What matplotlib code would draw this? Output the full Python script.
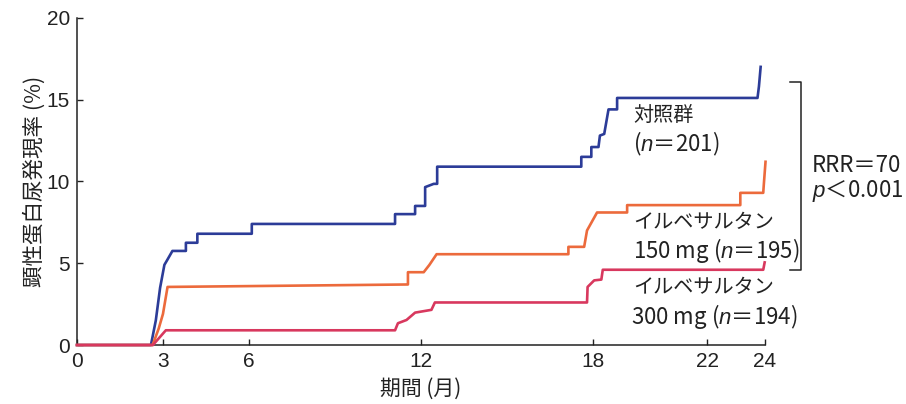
import matplotlib
matplotlib.use('Agg')
import matplotlib.pyplot as plt

# 時間 (月) と発現率 (%) の折れ線頂点
t_ctrl = [0, 2.58, 2.75, 2.9, 3.05, 3.15, 3.33, 3.8, 3.8, 4.2, 4.2, 6.1, 6.1, 11.1, 11.1,
          11.8, 11.8, 12.15, 12.15, 12.45, 12.57, 12.57, 17.6, 17.6, 17.95, 17.95, 18.2,
          18.25, 18.4, 18.55, 18.85, 18.85, 23.75, 23.8, 23.86]
y_ctrl = [0, 0, 1.5, 3.5, 4.9, 5.2, 5.75, 5.75, 6.25, 6.25, 6.8, 6.8, 7.4, 7.4, 8.0,
          8.0, 8.5, 8.5, 9.65, 9.85, 9.85, 10.9, 10.9, 11.5, 11.5, 12.1, 12.1,
          12.8, 12.9, 14.4, 14.4, 15.1, 15.1, 15.8, 17.0]

t_150 = [0, 2.64, 2.85, 3.0, 3.16, 11.55, 11.55, 12.1, 12.3, 12.55, 17.15, 17.15, 17.7,
         17.8, 18.15, 19.2, 19.2, 23.15, 23.15, 23.95, 23.97, 24.03]
y_150 = [0, 0, 1.0, 1.9, 3.55, 3.7, 4.45, 4.45, 4.9, 5.55, 5.55, 6.0, 6.0,
         7.0, 8.1, 8.1, 8.55, 8.55, 9.3, 9.3, 9.8, 11.2]

t_300 = [0, 2.65, 2.85, 3.1, 11.1, 11.2, 11.5, 11.8, 12.37, 12.49, 17.8, 17.82, 18.05,
         18.3, 18.35, 23.95, 24.0]
y_300 = [0, 0, 0.4, 0.9, 0.9, 1.33, 1.53, 1.98, 2.15, 2.6, 2.6, 3.55, 3.95,
         4.0, 4.6, 4.6, 5.05]

x_ticks = [0, 3, 6, 12, 18, 22, 24]
y_ticks = [0, 5, 10, 15, 20]

plt.rcParams['mathtext.fontset'] = 'custom'
plt.rcParams['mathtext.it'] = 'Liberation Sans:italic'
plt.rcParams['mathtext.rm'] = 'Liberation Sans'
jp = ['Noto Sans CJK JP', 'DejaVu Sans']

fig = plt.figure(figsize=(9.06, 4.04), dpi=100)
ax = fig.add_axes([0.085, 0.146, 0.759, 0.81])

ax.plot(t_ctrl, y_ctrl, color='#2c3c98', lw=1.9, clip_on=False, zorder=3)
ax.plot(t_150, y_150, color='#ec6a3c', lw=1.9, clip_on=False, zorder=4)
ax.plot(t_300, y_300, color='#d8385e', lw=1.9, clip_on=False, zorder=5)

ax.set_xlim(0, 24)
ax.set_ylim(0, 20)
ax.set_xticks(x_ticks)
ax.set_yticks(y_ticks)
for s in ['top', 'right']:
    ax.spines[s].set_visible(False)
for s in ['left', 'bottom']:
    ax.spines[s].set_linewidth(1.1)
    ax.spines[s].set_color('#222222')
ax.tick_params(direction='in', length=4.5, width=1.0, color='#222222',
               labelsize=15, labelcolor='#222222', pad=5)
for lab in ax.get_xticklabels() + ax.get_yticklabels():
    lab.set_family('Liberation Sans')

ax.set_xlabel('期間 (月)', family=jp, fontsize=15, color='#222222', labelpad=5)
ax.set_ylabel('顕性蛋白尿発現率 (%)', family=jp, fontsize=15.5, color='#222222', labelpad=1)

tx = 19.4
kw = dict(family=jp, fontsize=14.5, color='#222222', va='center', ha='left')
kw2 = dict(kw, fontsize=16)
ax.text(tx, 14.0, '対照群', **kw)
ax.text(tx, 12.3, '($n$＝201)', **kw2)
ax.text(tx, 7.5, 'イルベサルタン', **kw)
ax.text(tx, 5.77, '150 mg ($n$＝195)', **kw2)
ax.text(tx, 3.5, 'イルベサルタン', **kw)
ax.text(tx - 0.05, 1.74, '300 mg ($n$＝194)', **kw2)

# 括弧
ax.plot([24.87, 25.28, 25.28, 24.87], [16.1, 16.1, 4.6, 4.6], color='#222222',
        lw=1.1, clip_on=False)
ax.text(25.65, 11.0, 'RRR＝70', **kw2)
ax.text(25.65, 9.4, '$p$＜0.001', **kw2)

fig.savefig('out.png', dpi=100, facecolor='white')
